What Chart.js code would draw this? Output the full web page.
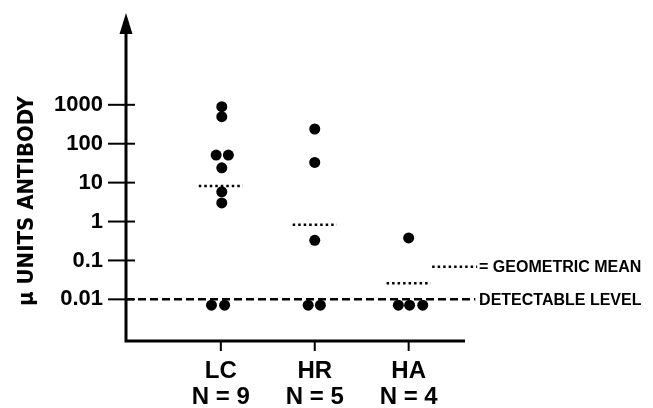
<!DOCTYPE html>
<html>
<head>
<meta charset="utf-8">
<script src="https://cdn.jsdelivr.net/npm/chart.js@4"></script>
<style>
  body { margin: 0; background: #fff; }
  canvas { display: block; }
</style>
</head>
<body>
<canvas id="chart" width="653" height="408"></canvas>
<script>
// groups along the x axis
const groups = ['LC', 'HR', 'HA'];
const groupN = [9, 5, 4];
const groupPos = [1, 2, 3];

// individual antibody values (µ units) and their small sideways offsets
const lcValues = [893, 494, 51, 51, 24, 5.8, 3.0, 0.0071, 0.0071];
const lcX = [1.01, 1.01, 0.95, 1.08, 1.01, 1.01, 1.01, 0.90, 1.04];
const hrValues = [239, 33, 0.33, 0.0071, 0.0071];
const hrX = [2.0, 2.0, 2.0, 1.93, 2.06];
const haValues = [0.38, 0.0071, 0.0071, 0.0071];
const haX = [3.0, 2.89, 3.01, 3.15];

// geometric means per group
const geoMeans = [8.2, 0.83, 0.026];

// y axis ticks and the detectable level
const yTicks = [0.01, 0.1, 1, 10, 100, 1000];
const detectLevel = 0.01;
const legendMeanY = 0.069;

const ink = '#000';
const sans = "'Liberation Sans', Arial, sans-serif";

function pts(xs, ys) {
  return ys.map((y, i) => ({ x: xs[i], y: y }));
}

const meanSets = geoMeans.map((m, i) => ({
  type: 'line',
  data: [{ x: groupPos[i] - 0.235, y: m }, { x: groupPos[i] + 0.235, y: m }],
  borderColor: ink,
  borderWidth: 2.5,
  borderDash: [2.5, 3],
  pointRadius: 0,
  fill: false
}));

const dotStyle = { backgroundColor: ink, borderWidth: 0, pointRadius: 5.5, pointHoverRadius: 5.5 };

// axes, arrow, tick marks, detectable level, legend and y title
const decor = {
  id: 'decor',
  afterDatasetsDraw(chart) {
    const { ctx, chartArea: a, scales: { x, y } } = chart;
    ctx.save();
    ctx.strokeStyle = ink;
    ctx.fillStyle = ink;

    // detectable level
    const yd = y.getPixelForValue(detectLevel);
    ctx.lineWidth = 2.5;
    ctx.setLineDash([8, 4]);
    ctx.beginPath();
    ctx.moveTo(a.left, yd);
    ctx.lineTo(x.getPixelForValue(3.71), yd);
    ctx.stroke();

    // legend sample for the geometric mean
    const ym = y.getPixelForValue(legendMeanY);
    ctx.setLineDash([2.5, 3]);
    ctx.beginPath();
    ctx.moveTo(x.getPixelForValue(3.25), ym);
    ctx.lineTo(x.getPixelForValue(3.73), ym);
    ctx.stroke();
    ctx.setLineDash([]);

    // axis lines
    ctx.lineWidth = 3;
    ctx.beginPath();
    ctx.moveTo(a.left, a.top + 16);
    ctx.lineTo(a.left, a.bottom);
    ctx.lineTo(a.right, a.bottom);
    ctx.stroke();

    // arrow head
    ctx.beginPath();
    ctx.moveTo(a.left, a.top);
    ctx.lineTo(a.left - 6.5, a.top + 21);
    ctx.lineTo(a.left + 6.5, a.top + 21);
    ctx.closePath();
    ctx.fill();

    // y tick marks crossing the axis
    ctx.lineWidth = 2;
    yTicks.forEach(v => {
      const py = y.getPixelForValue(v);
      ctx.beginPath();
      ctx.moveTo(a.left - 18, py);
      ctx.lineTo(a.left + 9, py);
      ctx.stroke();
    });
    // x tick marks below the axis
    groupPos.forEach(v => {
      const px = x.getPixelForValue(v);
      ctx.beginPath();
      ctx.moveTo(px, a.bottom);
      ctx.lineTo(px, a.bottom + 10);
      ctx.stroke();
    });

    // legend texts
    ctx.font = 'bold 16px ' + sans;
    ctx.textAlign = 'left';
    ctx.textBaseline = 'middle';
    ctx.fillText('= GEOMETRIC MEAN', x.getPixelForValue(3.75), ym + 1);
    ctx.fillText('DETECTABLE LEVEL', x.getPixelForValue(3.75), yd + 1);

    // y title
    ctx.translate(27, 201);
    ctx.rotate(-Math.PI / 2);
    ctx.textAlign = 'center';
    ctx.font = "bold 22px 'DejaVu Sans Condensed', sans-serif";
    ctx.fillText('μ UNITS ANTIBODY', 0, 0);
    ctx.restore();
  }
};

new Chart(document.getElementById('chart'), {
  type: 'scatter',
  data: {
    datasets: [
      { label: 'LC', data: pts(lcX, lcValues), ...dotStyle },
      { label: 'HR', data: pts(hrX, hrValues), ...dotStyle },
      { label: 'HA', data: pts(haX, haValues), ...dotStyle },
      ...meanSets
    ]
  },
  options: {
    responsive: false,
    animation: false,
    events: [],
    layout: { padding: { top: 13, right: 188, left: 0, bottom: 0 } },
    plugins: { legend: { display: false }, tooltip: { enabled: false } },
    scales: {
      x: {
        type: 'linear',
        min: -0.01,
        max: 3.6,
        grid: { display: false, drawTicks: false },
        border: { display: false },
        afterBuildTicks: s => { s.ticks = groupPos.map(v => ({ value: v })); },
        afterFit: s => { s.height = 67; s.paddingLeft = 0; s.paddingRight = 0; },
        ticks: {
          padding: 17,
          color: ink,
          maxRotation: 0,
          autoSkip: false,
          font: { family: sans, size: 24, weight: 'bold', lineHeight: 1.1 },
          callback: v => {
            const i = groupPos.indexOf(v);
            return i < 0 ? '' : [groups[i], 'N = ' + groupN[i]];
          }
        }
      },
      y: {
        type: 'logarithmic',
        min: 0.00085,
        max: 229000,
        bounds: 'data',
        grid: { display: false, drawTicks: false },
        border: { display: false },
        afterBuildTicks: s => { s.ticks = yTicks.map(v => ({ value: v })); },
        afterFit: s => { s.width = 126; s.paddingTop = 0; s.paddingBottom = 0; },
        ticks: {
          padding: 23,
          color: ink,
          autoSkip: false,
          font: { family: sans, size: 22, weight: 'bold' },
          callback: v => String(v)
        }
      }
    }
  },
  plugins: [decor]
});
</script>
</body>
</html>
